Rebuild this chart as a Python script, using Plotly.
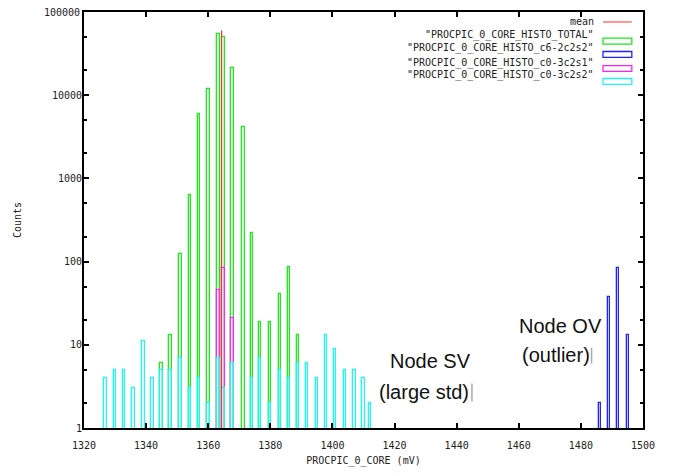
import plotly.graph_objects as go

# histogram bins (mV) and counts
cyan_mv = [1326.9, 1330.0, 1332.9, 1335.9, 1339.2, 1342.1, 1345.0, 1347.8, 1351.1, 1354.1,
           1357.0, 1360.1, 1363.3, 1365.0, 1367.8, 1374.1, 1376.7, 1379.9, 1383.1, 1386.0,
           1388.9, 1391.8, 1395.0, 1397.9, 1400.8, 1404.0, 1407.2, 1410.1, 1412.1]
cyan_cnt = [4, 5, 5, 3, 11, 4, 5, 5, 7, 3,
            4, 2, 7, 3, 6, 4, 7, 2, 5, 4,
            6, 6, 4, 13, 9, 5, 5, 4, 2]

total_mv = [1345.0, 1347.8, 1351.1, 1354.1, 1357.0, 1360.1, 1363.3, 1365.0, 1367.8, 1371.4,
            1374.1, 1376.7, 1379.9, 1383.1, 1386.0, 1388.9]
total_cnt = [6, 13, 122, 640, 5900, 12000, 55000, 49500, 21000, 4100,
             220, 19, 19, 41, 85, 13]

mag_mv = [1363.3, 1365.0, 1367.8]
mag_cnt = [46, 84, 21]

blue_mv = [1486.2, 1489.1, 1492.0, 1495.2]
blue_cnt = [2, 38, 83, 13]

mean_mv = 1364.3
mean_top = 60000

y_ticks = [1, 10, 100, 1000, 10000, 100000]
y_ticktext = ["1", "10", "100", "1000", "10000", "100000"]

legend_names = ["mean",
                '"PROCPIC_0_CORE_HISTO_TOTAL"',
                '"PROCPIC_0_CORE_HISTO_c6-2c2s2"',
                '"PROCPIC_0_CORE_HISTO_c0-3c2s1"',
                '"PROCPIC_0_CORE_HISTO_c0-3c2s2"']

MONO = "DejaVu Sans Mono"
BW = 0.85


def box(x, y, color):
    return go.Bar(x=x, y=y, width=BW, marker=dict(color="rgba(0,0,0,0)",
                  line=dict(color=color, width=1.3)), showlegend=False)


fig = go.Figure()
fig.add_trace(box(total_mv, total_cnt, "#1ee81e"))
fig.add_trace(box(blue_mv, blue_cnt, "#2222ff"))
fig.add_trace(box(mag_mv, mag_cnt, "#ff22ff"))
fig.add_trace(box(cyan_mv, cyan_cnt, "#22f4f4"))
fig.add_trace(go.Scatter(x=[mean_mv, mean_mv], y=[1, mean_top], mode="lines",
                         line=dict(color="#ff3030", width=1.2), showlegend=False))

# gnuplot-like legend: text on the left, key on the right
ys = [0.976, 0.9445, 0.9126, 0.8786, 0.8476]
cols = ["#ff3030", "#1ee81e", "#2222ff", "#ff22ff", "#22f4f4"]
for i, name in enumerate(legend_names):
    fig.add_annotation(x=0.916, y=ys[i], xref="paper", yref="paper", text=name,
                       showarrow=False, xanchor="right", yanchor="middle",
                       font=dict(family=MONO, size=10, color="#222"))
    if i == 0:
        fig.add_shape(type="line", xref="paper", yref="paper", x0=0.9284, x1=0.980,
                      y0=ys[i], y1=ys[i], line=dict(color=cols[i], width=1))
    else:
        fig.add_shape(type="rect", xref="paper", yref="paper", x0=0.9284, x1=0.980,
                      y0=ys[i] - 0.0215, y1=ys[i] - 0.0075, line=dict(color=cols[i], width=1.3))

# top tick label sits above the figure edge, so it is drawn as an annotation
fig.add_annotation(x=0, y=1, xref="paper", yref="paper", text=y_ticktext[-1],
                   showarrow=False, xanchor="right", yanchor="middle", xshift=-2,
                   font=dict(family=MONO, size=10, color="#222"))

# notes
notes = [("Node SV", 0.619, 0.162), ("(large std)", 0.608, 0.086),
         ("Node OV", 0.853, 0.245), ("(outlier)", 0.844, 0.176)]
for t, x, y in notes:
    fig.add_annotation(x=x, y=y, xref="paper", yref="paper", text=t, showarrow=False,
                       xanchor="center", yanchor="middle",
                       font=dict(family="Liberation Sans", size=20, color="#111"))
# small grey marks left after the closing brackets
for x, y0, y1 in [(0.694, 0.064, 0.107), (0.908, 0.155, 0.193)]:
    fig.add_shape(type="line", xref="paper", yref="paper", x0=x, x1=x, y0=y0, y1=y1,
                  line=dict(color="#aaaaaa", width=1.5))

# page body has an 8px margin, so the figure is shrunk to fit the window
fig.update_layout(
    width=659, height=459,
    margin=dict(l=76, r=24, t=2, b=37),
    barmode="overlay", bargap=0,
    plot_bgcolor="white", paper_bgcolor="white",
    font=dict(family=MONO, size=10, color="#222"),
    xaxis=dict(range=[1320, 1500], tickvals=list(range(1320, 1501, 20)),
               ticks="inside", ticklen=5, tickwidth=2, tickcolor="black",
               ticklabelstandoff=7,
               showline=True, linecolor="black", linewidth=2, mirror="allticks",
               showgrid=False, zeroline=False,
               title=dict(text="PROCPIC_0_CORE (mV)", standoff=7, font=dict(size=10))),
    yaxis=dict(type="log", range=[0, 5],
               tickvals=y_ticks, ticktext=y_ticktext[:-1] + [""],
               ticks="inside", ticklen=5, tickwidth=2, tickcolor="black",
               ticklabelstandoff=-2,
               minor=dict(tickvals=[2, 5, 20, 50, 200, 500, 2000, 5000, 20000, 50000],
                          ticks="inside", ticklen=3, tickcolor="black"),
               showline=True, linecolor="black", linewidth=2, mirror="allticks",
               showgrid=False, zeroline=False,
               title=dict(text="Counts", standoff=28, font=dict(size=10))),
)

fig.write_html("out.html")
